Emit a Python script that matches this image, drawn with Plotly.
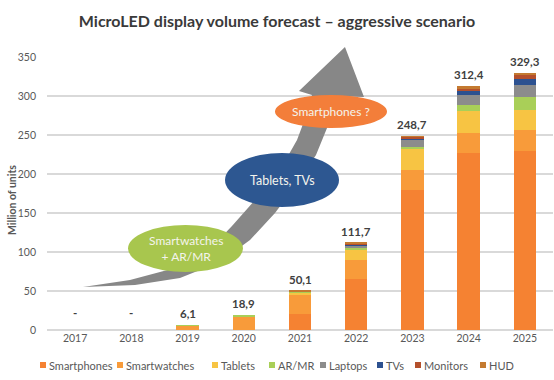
import plotly.graph_objects as go

years = ["2017", "2018", "2019", "2020", "2021", "2022", "2023", "2024", "2025"]
smartphones = [0, 0, 0, 0, 20, 66, 180, 227, 229]
smartwatches = [0, 0, 5.6, 17.9, 25, 24, 25, 26, 27]
tablets = [0, 0, 0, 0, 3.5, 13, 27, 28, 26]
ar_mr = [0, 0, 0.5, 1.0, 0.5, 1.5, 3, 7, 17]
laptops = [0, 0, 0, 0, 0, 4, 8, 13, 15]
tvs = [0, 0, 0, 0, 0, 0.5, 3, 5, 8]
monitors = [0, 0, 0, 0, 0.6, 2, 2, 4, 5]
hud = [0, 0, 0, 0, 0.5, 0.7, 0.7, 2.4, 2.3]
total_labels = ["-", "-", "6,1", "18,9", "50,1", "111,7", "248,7", "312,4", "329,3"]

series_names = ["Smartphones", "Smartwatches", "Tablets", "AR/MR", "Laptops", "TVs", "Monitors", "HUD"]
series_values = [smartphones, smartwatches, tablets, ar_mr, laptops, tvs, monitors, hud]
series_colors = ["#F58232", "#F89B3A", "#F7C443", "#A9CF58", "#8C8C8C", "#2D5190", "#B4502C", "#C47A30"]

FONT = "Lato"
GREY = "#595959"

# layout geometry (pixels)
W, H = 554, 380
ML, MR, MT, MB = 47, 1, 57, 50
PW, PH = W - ML - MR, H - MT - MB


def to_px(x):
    return (x - ML) / PW


def to_py(y):
    return (H - MB - y) / PH


xpos = list(range(len(years)))

fig = go.Figure()
for name, vals, col in zip(series_names, series_values, series_colors):
    fig.add_trace(go.Bar(x=xpos, y=vals, name=name, marker_color=col, width=0.4,
                         marker_line_width=0, showlegend=False, hoverinfo="skip"))

totals = [sum(v) for v in zip(*series_values)]
annotations = []
for xi, t, lab in zip(xpos, totals, total_labels):
    annotations.append(dict(x=xi, y=t, xref="x", yref="y", text="<b>" + lab + "</b>",
                            showarrow=False, yanchor="bottom", yshift=3 if t > 0 else 9,
                            font=dict(family=FONT, size=11.5, color="#404040")))

# curved arrow (decoration)
upper = [(83, 287), (130, 280), (175, 268), (208, 251), (232, 226), (255, 200),
         (280, 170), (297, 140), (306, 116), (312, 95)]
lower = [(336, 96), (327, 128), (316, 155), (296, 185), (275, 213), (250, 240),
         (220, 262), (180, 278), (135, 285)]
head = [(299, 91), (345, 47), (364, 97)]
pts = upper + head + lower
path = "M " + " L ".join(f"{to_px(x):.4f},{to_py(y):.4f}" for x, y in pts) + " Z"
shapes = [dict(type="path", path=path, xref="paper", yref="paper",
               fillcolor="#878787", line=dict(width=0), layer="above")]

ellipses = [
    (128, 243, 225, 272, "#A8C64E", "Smartwatches<br>+ AR/MR", 12),
    (225, 339, 153, 207, "#2D5791", "Tablets, TVs", 12.5),
    (275, 387, 95, 128, "#F37E3A", "Smartphones ?", 12),
]
for x0, x1, y0, y1, col, txt, fs in ellipses:
    shapes.append(dict(type="circle", xref="paper", yref="paper",
                       x0=to_px(x0), x1=to_px(x1), y0=to_py(y1), y1=to_py(y0),
                       fillcolor=col, line=dict(width=0), layer="above"))
    annotations.append(dict(x=to_px((x0 + x1) / 2), y=to_py((y0 + y1) / 2), xref="paper", yref="paper",
                            text=txt, showarrow=False, xanchor="center", yanchor="middle",
                            font=dict(family=FONT, size=fs, color="#F4F4EC")))

# manual legend
leg_x = [43, 120, 215, 272, 323, 380, 418, 483]
leg_y = 365
for lx, name, col in zip(leg_x, series_names, series_colors):
    shapes.append(dict(type="rect", xref="paper", yref="paper",
                       x0=to_px(lx - 3), x1=to_px(lx + 3), y0=to_py(leg_y + 3), y1=to_py(leg_y - 3),
                       fillcolor=col, line=dict(width=0)))
    annotations.append(dict(x=to_px(lx + 4), y=to_py(leg_y), xref="paper", yref="paper",
                            text=name, showarrow=False, xanchor="left", yanchor="middle",
                            font=dict(family=FONT, size=11, color=GREY)))

# y axis title
annotations.append(dict(x=to_px(12), y=to_py(200), xref="paper", yref="paper",
                        text="<b>Million of units</b>", textangle=-90, showarrow=False,
                        xanchor="center", yanchor="middle",
                        font=dict(family=FONT, size=10.5, color=GREY)))

fig.update_layout(
    barmode="stack",
    width=W, height=H,
    margin=dict(l=ML, r=MR, t=MT, b=MB, autoexpand=False),
    paper_bgcolor="white",
    plot_bgcolor="white",
    hovermode=False,
    title=dict(text="<b>MicroLED display volume forecast – aggressive scenario</b>",
               x=0.5, xanchor="center", y=1 - 21 / H, yanchor="middle",
               font=dict(family=FONT, size=16, color="#3A3A3A")),
    xaxis=dict(range=[-0.5, len(years) - 0.5], tickvals=xpos, ticktext=years,
               showgrid=False, showline=False, zeroline=False, ticks="",
               tickfont=dict(family=FONT, size=10.5, color=GREY)),
    yaxis=dict(range=[0, 350], tickvals=list(range(0, 351, 50)), showgrid=True,
               gridcolor="#D9D9D9", gridwidth=1.5, zeroline=True, zerolinecolor="#D9D9D9",
               zerolinewidth=1.5, showline=False, ticks="", ticklabelstandoff=10,
               tickfont=dict(family=FONT, size=10.5, color=GREY)),
    shapes=shapes,
    annotations=annotations,
    showlegend=False,
)

fig.write_html("out.html", config={"displayModeBar": False},
               post_script="document.body.style.margin='0';")
